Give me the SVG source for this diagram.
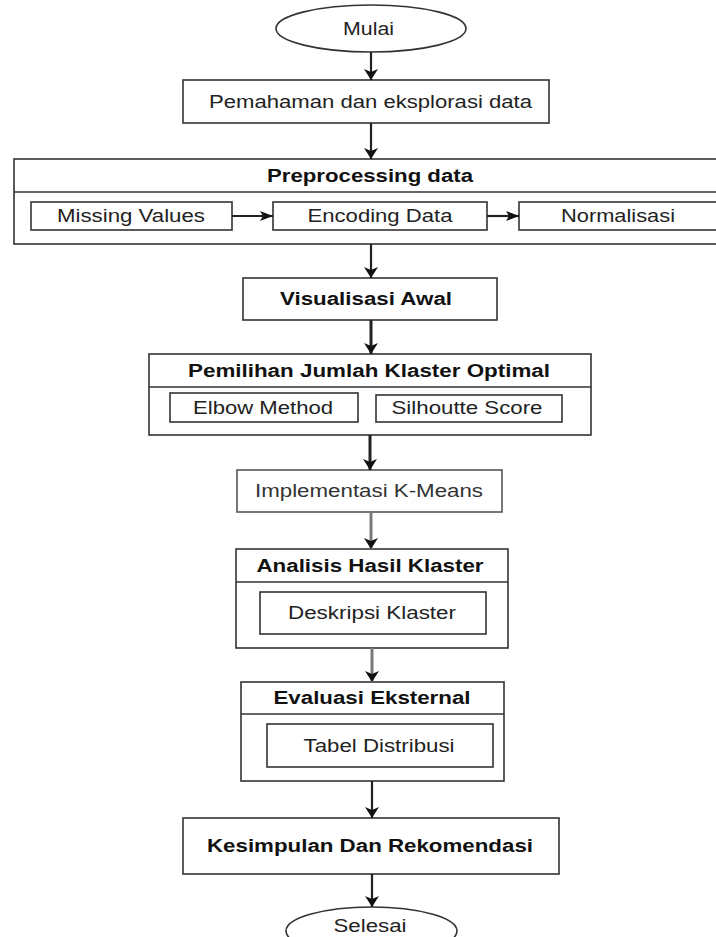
<svg xmlns="http://www.w3.org/2000/svg" width="716" height="937" viewBox="0 0 716 937">
<style>
.box{fill:#fff;stroke:#333;stroke-width:1.6}
.div{stroke:#333;stroke-width:1.6}
.t{font-family:"Liberation Sans",Arial,sans-serif;font-size:17.5px;fill:#222;text-anchor:middle}
.b{font-weight:bold;fill:#111}
.c{fill:none;stroke:#222;stroke-width:2.2}
.thick{stroke-width:3}
.grey{stroke:#7a7a7a;stroke-width:3}
</style>
<defs>
<marker id="av" markerUnits="userSpaceOnUse" markerWidth="16" markerHeight="16" viewBox="-12 -8 13 16" refX="0" refY="0" orient="auto">
<path d="M0,0 L-11,-7 L-8,0 L-11,7 Z" fill="#111"/>
</marker>
<marker id="ah" markerUnits="userSpaceOnUse" markerWidth="16" markerHeight="12" viewBox="-14 -6 15 12" refX="0" refY="0" orient="auto">
<path d="M0,0 L-13,-5 L-10,0 L-13,5 Z" fill="#111"/>
</marker>
</defs>
<rect width="716" height="937" fill="#fff"/>
<g id="mulai">
<ellipse class="box" cx="371" cy="28.5" rx="95" ry="23.5"/>
<text class="t" x="368.5" y="35" textLength="51" lengthAdjust="spacingAndGlyphs">Mulai</text>
</g>
<g id="pemahaman">
<rect class="box" x="183" y="80" width="366" height="43"/>
<text class="t" x="370.5" y="107.5" textLength="323" lengthAdjust="spacingAndGlyphs">Pemahaman dan eksplorasi data</text>
</g>
<g id="preprocessing">
<rect class="box" x="14" y="159" width="716" height="85"/>
<line class="div" x1="14" y1="192" x2="730" y2="192"/>
<text class="t b" x="370" y="182" textLength="206" lengthAdjust="spacingAndGlyphs">Preprocessing data</text>
</g>
<g id="missing-values">
<rect class="box" x="31" y="202" width="201" height="28"/>
<text class="t" x="131" y="222" textLength="148" lengthAdjust="spacingAndGlyphs">Missing Values</text>
</g>
<g id="encoding-data">
<rect class="box" x="273" y="202" width="214" height="28"/>
<text class="t" x="380" y="222" textLength="145" lengthAdjust="spacingAndGlyphs">Encoding Data</text>
</g>
<g id="normalisasi">
<rect class="box" x="519" y="202" width="199" height="28"/>
<text class="t" x="618" y="222" textLength="114" lengthAdjust="spacingAndGlyphs">Normalisasi</text>
</g>
<g id="visualisasi">
<rect class="box" x="243" y="278" width="254" height="42"/>
<text class="t b" x="366" y="305" textLength="172" lengthAdjust="spacingAndGlyphs">Visualisasi Awal</text>
</g>
<g id="pemilihan">
<rect class="box" x="149" y="354" width="442" height="81"/>
<line class="div" x1="149" y1="387" x2="591" y2="387"/>
<text class="t b" x="369" y="376.5" textLength="362" lengthAdjust="spacingAndGlyphs">Pemilihan Jumlah Klaster Optimal</text>
</g>
<g id="elbow">
<rect class="box" x="170" y="393" width="188" height="29"/>
<text class="t" x="263" y="413.5" textLength="140" lengthAdjust="spacingAndGlyphs">Elbow Method</text>
</g>
<g id="silhoutte">
<rect class="box" x="376" y="395" width="186" height="27"/>
<text class="t" x="467" y="414" textLength="151" lengthAdjust="spacingAndGlyphs">Silhoutte Score</text>
</g>
<g id="implementasi">
<rect class="box" x="237" y="470" width="265" height="42" style="stroke:#555"/>
<text class="t" x="369" y="497" textLength="228" lengthAdjust="spacingAndGlyphs" style="fill:#333">Implementasi K-Means</text>
</g>
<g id="analisis">
<rect class="box" x="236" y="549" width="272" height="99"/>
<line class="div" x1="236" y1="582" x2="508" y2="582"/>
<text class="t b" x="370" y="571.5" textLength="227" lengthAdjust="spacingAndGlyphs">Analisis Hasil Klaster</text>
</g>
<g id="deskripsi">
<rect class="box" x="260" y="592" width="226" height="42"/>
<text class="t" x="372" y="619" textLength="168" lengthAdjust="spacingAndGlyphs">Deskripsi Klaster</text>
</g>
<g id="evaluasi">
<rect class="box" x="241" y="682" width="263" height="99"/>
<line class="div" x1="241" y1="714" x2="504" y2="714"/>
<text class="t b" x="372" y="704" textLength="197" lengthAdjust="spacingAndGlyphs">Evaluasi Eksternal</text>
</g>
<g id="tabel">
<rect class="box" x="267" y="724" width="226" height="43"/>
<text class="t" x="379" y="751.5" textLength="151" lengthAdjust="spacingAndGlyphs">Tabel Distribusi</text>
</g>
<g id="kesimpulan">
<rect class="box" x="183" y="818" width="376" height="56"/>
<text class="t b" x="370" y="852" textLength="326" lengthAdjust="spacingAndGlyphs">Kesimpulan Dan Rekomendasi</text>
</g>
<g id="selesai">
<ellipse class="box" cx="371.5" cy="931" rx="85.5" ry="24"/>
<text class="t" x="370" y="932" textLength="73" lengthAdjust="spacingAndGlyphs">Selesai</text>
</g>
<g id="connectors">
<line class="c" x1="371" y1="52" x2="371" y2="80" marker-end="url(#av)"/>
<line class="c" x1="371" y1="123" x2="371" y2="159" marker-end="url(#av)"/>
<line class="c" x1="232" y1="216" x2="273" y2="216" marker-end="url(#ah)"/>
<line class="c" x1="487" y1="216" x2="519" y2="216" marker-end="url(#ah)"/>
<line class="c" x1="371" y1="244" x2="371" y2="278" marker-end="url(#av)"/>
<line class="c thick" x1="371" y1="320" x2="371" y2="354" marker-end="url(#av)"/>
<line class="c thick" x1="370" y1="435" x2="370" y2="470" marker-end="url(#av)"/>
<line class="c grey" x1="371" y1="512" x2="371" y2="549" marker-end="url(#av)"/>
<line class="c grey" x1="372" y1="648" x2="372" y2="682" marker-end="url(#av)"/>
<line class="c" x1="372" y1="781" x2="372" y2="818" marker-end="url(#av)"/>
<line class="c" x1="372" y1="874" x2="372" y2="907" marker-end="url(#av)"/>
</g>
</svg>
